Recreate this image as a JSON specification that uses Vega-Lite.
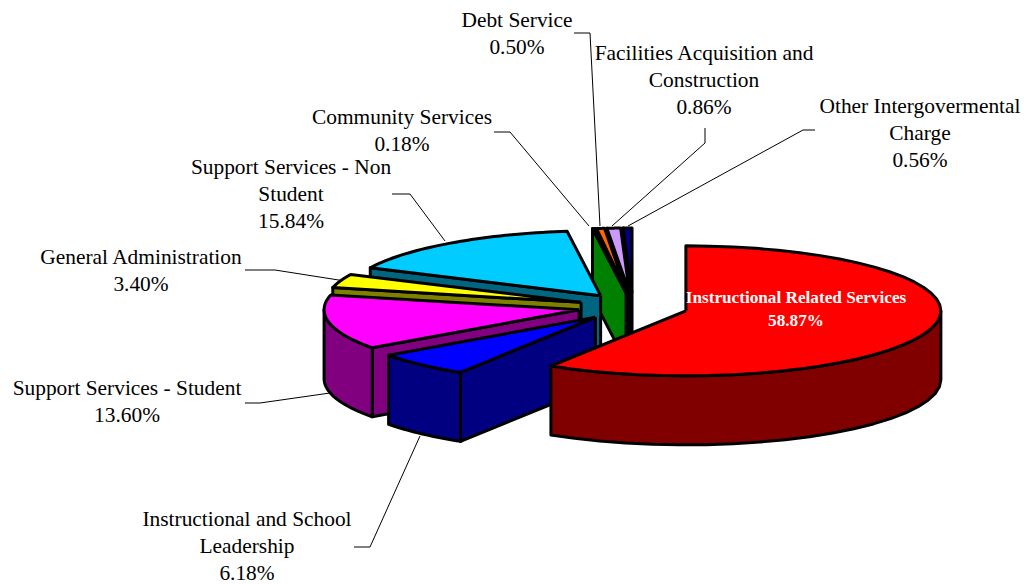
{
  "$schema": "https://vega.github.io/schema/vega-lite/v6.json",
  "width": 1024,
  "height": 584,
  "autosize": {"type": "none"},
  "padding": 0,
  "background": "white",
  "view": {"stroke": null},
  "params": [
    {"name": "rx", "value": 255},
    {"name": "ry", "value": 65},
    {"name": "depth", "value": 69},
    {"name": "explode", "value": 55},
    {"name": "pieShift", "value": 1}
  ],
  "datasets": {
    "slices": [
      {"part": "Other", "label": "Other Intergovermental|Charge", "share": 0.56, "lx": 288, "ly": 200},
      {"part": "Facilities", "label": "Facilities Acquisition and|Construction", "share": 0.86, "lx": 72, "ly": 253},
      {"part": "Debt", "label": "Debt Service", "share": 0.50, "lx": -115, "ly": 286},
      {"part": "Community", "label": "Community Services", "share": 0.18, "lx": -230, "ly": 189},
      {"part": "NonStudent", "label": "Support Services - Non|Student", "share": 15.84, "lx": -341, "ly": 139},
      {"part": "Admin", "label": "General Administration", "share": 3.40, "lx": -491, "ly": 49},
      {"part": "Student", "label": "Support Services - Student", "share": 13.60, "lx": -505, "ly": -82},
      {"part": "Leadership", "label": "Instructional and School|Leadership", "share": 6.18, "lx": -385, "ly": -213},
      {"part": "Instruction", "label": "Instructional Related Services", "share": 58.87, "lx": 164, "ly": 9}
    ],
    "leaders": [
      {"part": "Debt", "n": 0, "lineX": -58, "lineY": 274},
      {"part": "Debt", "n": 1, "lineX": -42, "lineY": 274},
      {"part": "Debt", "n": 2, "lineX": -32, "lineY": 81},
      {"part": "Facilities", "n": 0, "lineX": 73, "lineY": 179},
      {"part": "Facilities", "n": 1, "lineX": 73, "lineY": 164},
      {"part": "Facilities", "n": 2, "lineX": -20, "lineY": 81},
      {"part": "Other", "n": 0, "lineX": 183, "lineY": 177},
      {"part": "Other", "n": 1, "lineX": 171, "lineY": 177},
      {"part": "Other", "n": 2, "lineX": -4, "lineY": 81},
      {"part": "Community", "n": 0, "lineX": -138, "lineY": 175},
      {"part": "Community", "n": 1, "lineX": -122, "lineY": 175},
      {"part": "Community", "n": 2, "lineX": -43, "lineY": 81},
      {"part": "NonStudent", "n": 0, "lineX": -240, "lineY": 113},
      {"part": "NonStudent", "n": 1, "lineX": -222, "lineY": 113},
      {"part": "NonStudent", "n": 2, "lineX": -187, "lineY": 66},
      {"part": "Admin", "n": 0, "lineX": -387, "lineY": 37},
      {"part": "Admin", "n": 1, "lineX": -357, "lineY": 37},
      {"part": "Admin", "n": 2, "lineX": -287, "lineY": 26},
      {"part": "Student", "n": 0, "lineX": -387, "lineY": -96},
      {"part": "Student", "n": 1, "lineX": -372, "lineY": -96},
      {"part": "Student", "n": 2, "lineX": -302, "lineY": -86},
      {"part": "Leadership", "n": 0, "lineX": -278, "lineY": -240},
      {"part": "Leadership", "n": 1, "lineX": -262, "lineY": -240},
      {"part": "Leadership", "n": 2, "lineX": -212, "lineY": -129}
    ]
  },
  "layer": [
    {
      "data": {"name": "leaders"},
      "mark": {"type": "line", "stroke": "black", "strokeWidth": 1},
      "encoding": {
        "x": {"field": "lineX", "type": "quantitative", "axis": null, "scale": {"domain": [-632, 392], "nice": false, "zero": false}},
        "y": {"field": "lineY", "type": "quantitative", "axis": null, "scale": {"domain": [-277, 307], "nice": false, "zero": false}},
        "detail": {"field": "part"},
        "order": {"field": "n"}
      }
    },
    {
      "data": {"name": "slices"},
      "transform": [
        {"joinaggregate": [{"op": "sum", "field": "share", "as": "total"}]},
        {"window": [{"op": "sum", "field": "share", "as": "cum"}]},
        {"calculate": "2 * PI * (1 - datum.cum / datum.total)", "as": "a0"},
        {"calculate": "datum.a0 + 2 * PI * datum.share / datum.total", "as": "a1"},
        {"calculate": "(datum.a0 + datum.a1) / 2", "as": "mid"},
        {"calculate": "max(datum.a0, PI / 2)", "as": "b0"},
        {"calculate": "min(datum.a1, 3 * PI / 2)", "as": "b1"},
        {"calculate": "[0, 1, 2]", "as": "face"},
        {"flatten": ["face"]},
        {"calculate": "sequence(0, 43)", "as": "v"},
        {"flatten": ["v"]},
        {"filter": "(datum.face == 2) || (datum.face == 1 && datum.b1 > datum.b0) || (datum.face == 0 && datum.v <= 4 && sin(datum.a0) < -0.001)"},
        {"calculate": "datum.face == 2 ? datum.a0 + (datum.a1 - datum.a0) * (datum.v - 1) / 40 : datum.face == 1 ? datum.b0 + (datum.b1 - datum.b0) * (datum.v <= 20 ? datum.v : datum.v <= 41 ? 41 - datum.v : 0) / 20 : datum.a0", "as": "ang"},
        {"calculate": "datum.face == 2 ? (datum.v == 0 || datum.v == 42 ? 0 : 1) : datum.face == 1 ? 1 : (datum.v == 1 || datum.v == 2 ? 1 : 0)", "as": "rad"},
        {"calculate": "datum.face == 2 ? 0 : datum.face == 1 ? (datum.v > 20 && datum.v <= 41 ? 1 : 0) : (datum.v == 2 || datum.v == 3 ? 1 : 0)", "as": "down"},
        {"calculate": "sin(datum.ang) * datum.rad * rx + explode * sin(datum.mid) + pieShift", "as": "px"},
        {"calculate": "cos(datum.ang) * datum.rad * ry + explode * (ry / rx) * cos(datum.mid) - datum.down * depth", "as": "py"},
        {"calculate": "datum.part + '-' + datum.face", "as": "poly"},
        {"calculate": "datum.part + (datum.face == 2 ? ' top' : ' side')", "as": "shade"}
      ],
      "mark": {"type": "line", "stroke": "black", "strokeWidth": 3, "strokeJoin": "round"},
      "encoding": {
        "x": {"field": "px", "type": "quantitative", "axis": null, "scale": {"domain": [-632, 392], "nice": false, "zero": false}},
        "y": {"field": "py", "type": "quantitative", "axis": null, "scale": {"domain": [-277, 307], "nice": false, "zero": false}},
        "detail": {"field": "poly"},
        "order": {"field": "v"},
        "fill": {
          "field": "shade",
          "type": "nominal",
          "legend": null,
          "scale": {
            "domain": [
              "Instruction top", "Instruction side", "Leadership top", "Leadership side",
              "Student top", "Student side", "Admin top", "Admin side",
              "NonStudent top", "NonStudent side", "Community top", "Community side",
              "Debt top", "Debt side", "Facilities top", "Facilities side",
              "Other top", "Other side"
            ],
            "range": [
              "#ff0000", "#800000", "#0000ff", "#000080",
              "#ff00ff", "#800080", "#ffff00", "#808000",
              "#00ccff", "#006680", "#00ff00", "#008000",
              "#ff6600", "#803300", "#cc99ff", "#664d80",
              "#000080", "#000040"
            ]
          }
        }
      }
    },
    {
      "data": {"name": "slices"},
      "transform": [
        {"filter": "datum.part != 'Instruction'"},
        {"calculate": "datum.label + '|' + format(datum.share, '.2f') + '%'", "as": "caption"}
      ],
      "mark": {"type": "text", "font": "Liberation Serif", "fontSize": 21.4, "lineHeight": 27.2, "lineBreak": "|", "align": "center", "baseline": "middle", "color": "black"},
      "encoding": {
        "x": {"field": "lx", "type": "quantitative", "axis": null, "scale": {"domain": [-632, 392], "nice": false, "zero": false}},
        "y": {"field": "ly", "type": "quantitative", "axis": null, "scale": {"domain": [-277, 307], "nice": false, "zero": false}},
        "text": {"field": "caption"}
      }
    },
    {
      "data": {"name": "slices"},
      "transform": [
        {"filter": "datum.part == 'Instruction'"},
        {"calculate": "datum.label + '|' + format(datum.share, '.2f') + '%'", "as": "caption"}
      ],
      "mark": {"type": "text", "font": "Liberation Serif", "fontSize": 17.2, "fontWeight": "bold", "lineHeight": 23, "lineBreak": "|", "align": "center", "baseline": "middle", "color": "white"},
      "encoding": {
        "x": {"field": "lx", "type": "quantitative", "axis": null, "scale": {"domain": [-632, 392], "nice": false, "zero": false}},
        "y": {"field": "ly", "type": "quantitative", "axis": null, "scale": {"domain": [-277, 307], "nice": false, "zero": false}},
        "text": {"field": "caption"}
      }
    }
  ]
}
